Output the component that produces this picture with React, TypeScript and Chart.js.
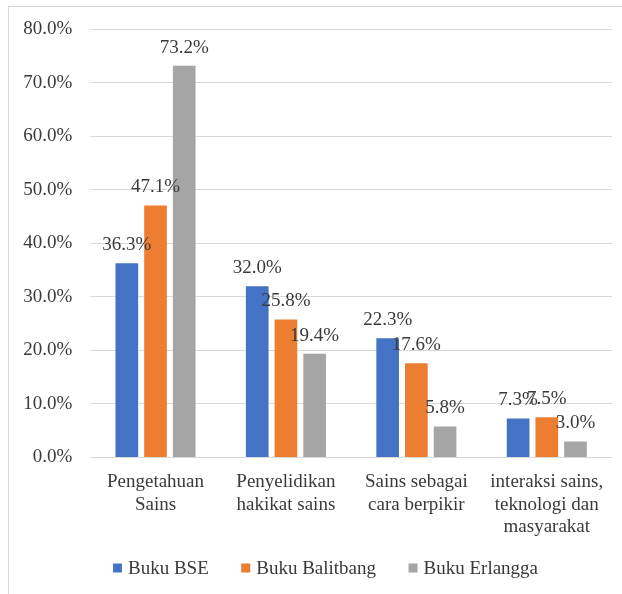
import React, { useEffect, useRef } from "react";
import { Chart, registerables } from "chart.js";

Chart.register(...registerables);

const categories: string[][] = [
  ["Pengetahuan", "Sains"],
  ["Penyelidikan", "hakikat sains"],
  ["Sains sebagai", "cara berpikir"],
  ["interaksi sains,", "teknologi dan", "masyarakat"],
];
const seriesNames = ["Buku BSE", "Buku Balitbang", "Buku Erlangga"];
const bse = [36.3, 32.0, 22.3, 7.3];
const balitbang = [47.1, 25.8, 17.6, 7.5];
const erlangga = [73.2, 19.4, 5.8, 3.0];
const seriesColors = ["#4472C4", "#ED7D31", "#A5A5A5"];
const yMax = 80;
const yStep = 10;

const FONT = "'Liberation Serif', 'Times New Roman', serif";
const TEXT = "#3A3A3A";

const valueLabels = {
  id: "valueLabels",
  afterDatasetsDraw(chart: any) {
    const ctx = chart.ctx;
    ctx.save();
    ctx.font = `19px ${FONT}`;
    ctx.fillStyle = TEXT;
    ctx.textAlign = "center";
    ctx.textBaseline = "alphabetic";
    chart.data.datasets.forEach((ds: any, i: number) => {
      const meta = chart.getDatasetMeta(i);
      meta.data.forEach((bar: any, j: number) => {
        const v = ds.data[j] as number;
        ctx.fillText(v.toFixed(1) + "%", bar.x, bar.y - 13);
      });
    });
    ctx.restore();
  },
};

const customLegend = {
  id: "customLegend",
  afterDraw(chart: any) {
    const ctx = chart.ctx;
    ctx.save();
    ctx.font = `19px ${FONT}`;
    ctx.textBaseline = "middle";
    ctx.textAlign = "left";
    const box = 9;
    const gapBoxText = 6;
    const gapItems = 32.5;
    const items = chart.data.datasets.map((ds: any) => ({
      label: ds.label as string,
      color: ds.backgroundColor as string,
      w: ctx.measureText(ds.label).width,
    }));
    const total =
      items.reduce((s: number, it: any) => s + box + gapBoxText + it.w, 0) + gapItems * (items.length - 1);
    const cx = 325.5;
    const cy = 568;
    let x = cx - total / 2;
    items.forEach((it: any) => {
      ctx.fillStyle = it.color;
      ctx.fillRect(x, cy - box / 2, box, box);
      ctx.fillStyle = TEXT;
      ctx.fillText(it.label, x + box + gapBoxText, cy + 1);
      x += box + gapBoxText + it.w + gapItems;
    });
    ctx.restore();
  },
};

export default function App() {
  const ref = useRef<HTMLCanvasElement | null>(null);
  useEffect(() => {
    document.body.style.margin = "0";
    const chart = new Chart(ref.current!, {
      type: "bar",
      data: {
        labels: categories,
        datasets: [bse, balitbang, erlangga].map((d, i) => ({
          label: seriesNames[i],
          data: d,
          backgroundColor: seriesColors[i],
          borderWidth: 0,
          categoryPercentage: 0.66,
          barPercentage: 0.79,
        })),
      },
      options: {
        animation: false,
        responsive: false,
        maintainAspectRatio: false,
        layout: { padding: { left: 0, right: 10, top: 29.3, bottom: 43.5 } },
        plugins: {
          tooltip: { enabled: false },
          legend: { display: false },
        },
        scales: {
          x: {
            grid: { display: false, drawTicks: false },
            border: { display: false },
            ticks: {
              font: { family: FONT, size: 19, lineHeight: 1.2 },
              color: TEXT,
              padding: 13,
              maxRotation: 0,
              autoSkip: false,
            },
            afterFit(scale: any) {
              scale.height = 93;
            },
          },
          y: {
            min: 0,
            max: yMax,
            grid: { color: "#D9D9D9", lineWidth: 1, drawTicks: false },
            border: { display: false },
            ticks: {
              stepSize: yStep,
              font: { family: FONT, size: 19 },
              color: TEXT,
              padding: 18,
              callback: (v: any) => Number(v).toFixed(1) + "%",
            },
            afterFit(scale: any) {
              scale.width = 90.3;
            },
          },
        },
      },
      plugins: [valueLabels, customLegend],
    });
    return () => chart.destroy();
  }, []);
  return (
    <div style={{ position: "fixed", left: 0, top: 0, width: 622, height: 594, overflow: "hidden", background: "#fff" }}>
      <div
        style={{
          position: "absolute",
          left: 8,
          top: 6,
          width: 700,
          height: 700,
          borderLeft: "1px solid #D9D9D9",
          borderTop: "1px solid #D9D9D9",
        }}
      />
      <canvas ref={ref} width={622} height={594} style={{ position: "absolute", left: 0, top: 0, width: 622, height: 594 }} />
    </div>
  );
}
